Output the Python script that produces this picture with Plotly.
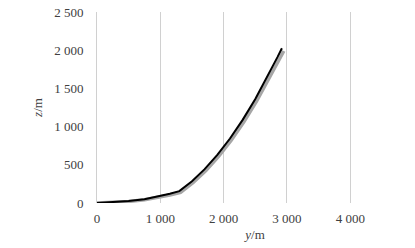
import plotly.graph_objects as go

# black series (y, z)
y_black = [0, 250, 500, 750, 1000, 1150, 1300, 1500, 1700, 1900, 2100, 2300, 2500, 2700, 2850, 2920]
z_black = [0, 10, 25, 50, 88, 120, 155, 285, 443, 629, 844, 1088, 1361, 1663, 1909, 2025]

# gray series (y, z)
y_gray = [0, 250, 500, 750, 1000, 1150, 1320, 1520, 1720, 1920, 2120, 2320, 2520, 2720, 2870, 2950]
z_gray = [0, 8, 20, 42, 75, 105, 140, 270, 425, 610, 822, 1063, 1333, 1630, 1870, 1990]

x_ticks = [0, 1000, 2000, 3000, 4000]
x_labels = ["0", "1 000", "2 000", "3 000", "4 000"]
y_ticks = [0, 500, 1000, 1500, 2000, 2500]
y_labels = ["0", "500", "1 000", "1 500", "2 000", "2 500"]

fig = go.Figure()
fig.add_trace(go.Scatter(x=y_gray, y=z_gray, mode="lines",
                         line=dict(color="#a6a6a6", width=3.5), showlegend=False))
fig.add_trace(go.Scatter(x=y_black, y=z_black, mode="lines",
                         line=dict(color="#000000", width=2), showlegend=False))

font = dict(family="Liberation Serif", size=13, color="#404040")
fig.update_layout(
    width=415, height=248,
    margin=dict(l=97, r=2, t=12, b=45),
    paper_bgcolor="white", plot_bgcolor="white",
    font=font,
    xaxis=dict(range=[0, 4990], tickvals=x_ticks, ticktext=x_labels,
               showgrid=True, gridcolor="#d0d0d0", gridwidth=1,
               zeroline=False, showline=False, ticks="",
               ticklabelstandoff=6, automargin=False,
               tickfont=font,
               title=dict(text="<i>y</i>/m", standoff=4, font=font)),
    yaxis=dict(range=[0, 2500], tickvals=y_ticks, ticktext=y_labels,
               showgrid=False, zeroline=False,
               showline=True, linecolor="#d0d0d0", linewidth=1, ticks="",
               ticklabelstandoff=10, automargin=False,
               tickfont=font,
               title=dict(text="<i>z</i>/m", standoff=8, font=font)),
)
fig.write_html("out.html", config={"displayModeBar": False},
               post_script="document.body.style.margin='0';document.body.style.overflow='hidden';")
